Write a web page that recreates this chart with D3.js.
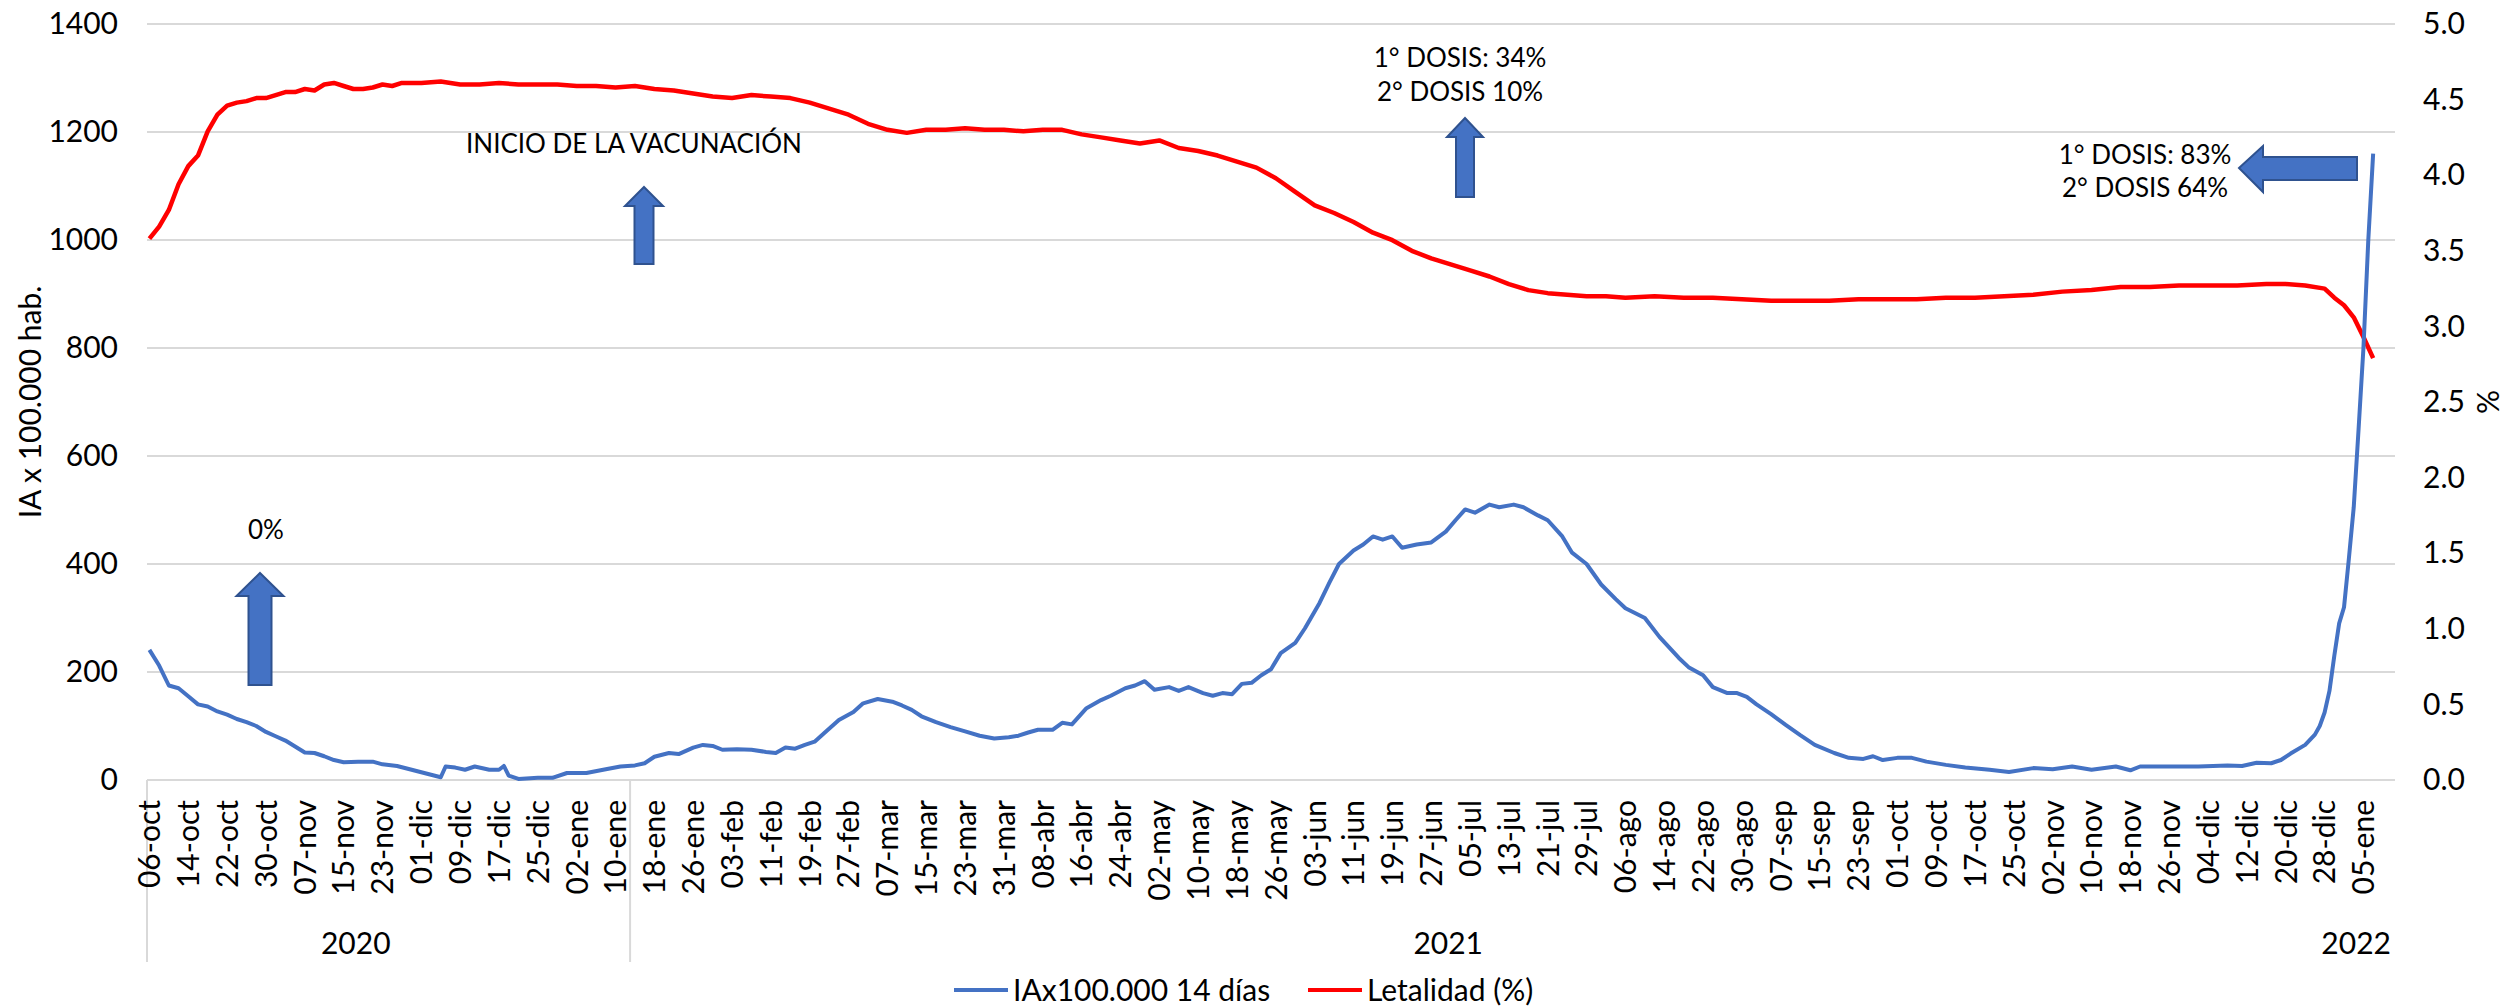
<!DOCTYPE html>
<html>
<head>
<meta charset="utf-8">
<script src="https://cdn.jsdelivr.net/npm/d3@7"></script>
<style>
  body { margin: 0; background: #fff; }
  svg text { font-family: Lato, "Open Sans", sans-serif; fill: #000; }
</style>
</head>
<body>
<div id="myChart"></div>
<script>
// categorias: un dia por categoria desde el 06-oct-2020
const nCategories = 463;

// etiquetas del eje x (cada 8 dias)
const tickLabels = ["06-oct","14-oct","22-oct","30-oct","07-nov","15-nov","23-nov","01-dic","09-dic","17-dic","25-dic","02-ene","10-ene","18-ene","26-ene","03-feb","11-feb","19-feb","27-feb","07-mar","15-mar","23-mar","31-mar","08-abr","16-abr","24-abr","02-may","10-may","18-may","26-may","03-jun","11-jun","19-jun","27-jun","05-jul","13-jul","21-jul","29-jul","06-ago","14-ago","22-ago","30-ago","07-sep","15-sep","23-sep","01-oct","09-oct","17-oct","25-oct","02-nov","10-nov","18-nov","26-nov","04-dic","12-dic","20-dic","28-dic","05-ene"];

// grupos de año (categoria donde empieza el grupo y donde va la etiqueta)
const yearLabels = ["2020", "2021", "2022"];
const yearLabelAt = [43, 268, 455];
const yearSplits = [0, 99.5];

// IA x 100.000 14 dias  [categoria, valor]
const iaPoints = [[0,241],[2,212],[4,175],[6,170],[8,155],[10,140],[12,136],[14,127],[16,121],[18,113],[20,107],[22,100],[24,89],[26,81],[28,73],[30,62],[32,51],[34,50],[36,44],[38,37],[40,33],[43,34],[46,34],[48,29],[51,26],[54,19],[57,12],[60,5],[61,25],[63,23],[65,19],[67,25],[70,19],[72,19],[73,26],[74,8],[76,2],[80,4],[83,4],[86,13],[90,13],[94,20],[97,25],[100,27],[102,31],[104,43],[107,50],[109,48],[112,60],[114,65],[116,63],[118,56],[121,57],[124,56],[127,52],[129,50],[131,60],[133,58],[135,65],[137,71],[139,87],[142,111],[145,126],[147,142],[150,150],[153,145],[155,138],[157,130],[159,118],[162,107],[165,98],[168,90],[171,82],[174,77],[177,79],[179,82],[181,88],[183,93],[186,93],[188,106],[190,103],[193,133],[196,148],[198,156],[201,170],[203,175],[205,183],[207,167],[210,172],[212,165],[214,172],[217,161],[219,156],[221,161],[223,159],[225,178],[227,180],[229,194],[231,205],[233,235],[236,254],[238,281],[241,328],[243,365],[245,400],[248,425],[250,436],[252,451],[254,445],[256,451],[258,430],[261,436],[264,440],[267,460],[269,481],[271,501],[273,495],[276,510],[278,505],[281,510],[283,505],[286,490],[288,481],[291,451],[293,421],[296,400],[299,362],[302,335],[304,318],[308,300],[311,265],[315,226],[317,209],[320,194],[322,172],[325,161],[327,161],[329,154],[331,140],[334,122],[337,102],[340,83],[343,65],[347,50],[350,41],[353,39],[355,44],[357,37],[360,41],[363,41],[366,34],[370,28],[374,23],[379,19],[383,15],[388,22],[392,20],[396,25],[400,19],[405,25],[408,18],[410,25],[415,25],[422,25],[428,27],[431,26],[434,32],[437,31],[439,37],[441,49],[444,65],[446,84],[447,100],[448,125],[449,165],[450,230],[451,290],[452,320],[453,410],[454,505],[455,650],[456,800],[457,1000],[458,1160]];

// Letalidad (%)  [categoria, valor]
const letPoints = [[0,3.58],[2,3.66],[4,3.77],[6,3.94],[8,4.06],[10,4.13],[12,4.29],[14,4.40],[16,4.46],[18,4.48],[20,4.49],[22,4.51],[24,4.51],[26,4.53],[28,4.55],[30,4.55],[32,4.57],[34,4.56],[36,4.60],[38,4.61],[40,4.59],[42,4.57],[44,4.57],[46,4.58],[48,4.60],[50,4.59],[52,4.61],[56,4.61],[60,4.62],[64,4.60],[68,4.60],[72,4.61],[76,4.60],[80,4.60],[84,4.60],[88,4.59],[92,4.59],[96,4.58],[100,4.59],[104,4.57],[108,4.56],[112,4.54],[116,4.52],[120,4.51],[124,4.53],[128,4.52],[132,4.51],[136,4.48],[140,4.44],[144,4.40],[148,4.34],[152,4.30],[156,4.28],[160,4.30],[164,4.30],[168,4.31],[172,4.30],[176,4.30],[180,4.29],[184,4.30],[188,4.30],[192,4.27],[196,4.25],[200,4.23],[204,4.21],[208,4.23],[212,4.18],[216,4.16],[220,4.13],[224,4.09],[228,4.05],[232,3.98],[236,3.89],[240,3.80],[244,3.75],[248,3.69],[252,3.62],[256,3.57],[260,3.50],[264,3.45],[268,3.41],[272,3.37],[276,3.33],[280,3.28],[284,3.24],[288,3.22],[292,3.21],[296,3.20],[300,3.20],[304,3.19],[310,3.20],[316,3.19],[322,3.19],[328,3.18],[334,3.17],[340,3.17],[346,3.17],[352,3.18],[358,3.18],[364,3.18],[370,3.19],[376,3.19],[382,3.20],[388,3.21],[394,3.23],[400,3.24],[406,3.26],[412,3.26],[418,3.27],[424,3.27],[430,3.27],[436,3.28],[440,3.28],[444,3.27],[448,3.25],[450,3.19],[452,3.14],[454,3.06],[456,2.93],[458,2.79]];

const leftTicks = [0, 200, 400, 600, 800, 1000, 1200, 1400];
const rightTicks = [0, 0.5, 1, 1.5, 2, 2.5, 3, 3.5, 4, 4.5, 5];

const W = 2509, H = 1006;
const margin = { top: 24, right: 114, bottom: 226, left: 147 };
const width = W - margin.left - margin.right,
  height = H - margin.top - margin.bottom;

const svg = d3
  .select("#myChart")
  .append("svg")
  .attr("width", W)
  .attr("height", H);

const g = svg
  .append("g")
  .attr("transform", "translate(" + margin.left + "," + margin.top + ")");

// escalas
const x = d3.scaleLinear().domain([0, nCategories]).range([0, width]);
const yLeft = d3.scaleLinear().domain([0, 1400]).range([height, 0]);
const yRight = d3.scaleLinear().domain([0, 5]).range([height, 0]);

// lineas de la grilla
g.append("g")
  .selectAll("line")
  .data(leftTicks)
  .enter()
  .append("line")
  .attr("x1", 0)
  .attr("x2", width)
  .attr("y1", (d) => yLeft(d))
  .attr("y2", (d) => yLeft(d))
  .attr("stroke", "#d9d9d9")
  .attr("stroke-width", 2);

// eje izquierdo
const axL = g.append("g").call(
  d3.axisLeft(yLeft).tickValues(leftTicks).tickSize(0).tickPadding(29).tickFormat(d3.format("d"))
);
axL.select(".domain").remove();
axL.selectAll("text").style("font-size", "30px").attr("font-family", null);

// eje derecho
const axR = g
  .append("g")
  .attr("transform", "translate(" + (width + 28) + ",0)")
  .call(d3.axisRight(yRight).tickValues(rightTicks).tickSize(0).tickPadding(0).tickFormat(d3.format(".1f")));
axR.select(".domain").remove();
axR.selectAll("text").style("font-size", "30px").attr("font-family", null);

// eje x
const xa = g.append("g").attr("transform", "translate(0," + height + ")");

// separadores de año (debajo de las etiquetas)
xa.selectAll(".sep")
  .data(yearSplits)
  .enter()
  .append("line")
  .attr("x1", (d) => x(d))
  .attr("x2", (d) => x(d))
  .attr("y1", 0)
  .attr("y2", 182)
  .attr("stroke", "#d9d9d9")
  .attr("stroke-width", 2);

// etiquetas rotadas
xa.selectAll(".xlab")
  .data(tickLabels)
  .enter()
  .append("text")
  .attr("class", "xlab")
  .attr("transform", (d, i) => "translate(" + x(i * 8 + 0.5) + ",20) rotate(-90)")
  .attr("text-anchor", "end")
  .attr("dy", "0.36em")
  .style("font-size", "30px")
  .text((d) => d);

xa.selectAll(".year")
  .data(yearLabels)
  .enter()
  .append("text")
  .attr("x", (d, i) => x(yearLabelAt[i]))
  .attr("y", 174)
  .attr("text-anchor", "middle")
  .style("font-size", "30px")
  .text((d) => d);

// titulos de ejes
svg
  .append("text")
  .attr("transform", "translate(30," + (margin.top + height / 2) + ") rotate(-90)")
  .attr("text-anchor", "middle")
  .attr("dy", "0.35em")
  .style("font-size", "30px")
  .text("IA x 100.000 hab.");

svg
  .append("text")
  .attr("transform", "translate(2488," + (margin.top + height / 2) + ") rotate(-90)")
  .attr("text-anchor", "middle")
  .attr("dy", "0.35em")
  .style("font-size", "30px")
  .text("%");

// lineas
const lineL = d3.line().x((d) => x(d[0] + 0.5)).y((d) => yLeft(d[1]));
const lineR = d3.line().x((d) => x(d[0] + 0.5)).y((d) => yRight(d[1]));

g.append("path")
  .datum(letPoints)
  .attr("fill", "none")
  .attr("stroke", "#ff0000")
  .attr("stroke-width", 4.5)
  .attr("stroke-linejoin", "round")
  .attr("d", lineR);

g.append("path")
  .datum(iaPoints)
  .attr("fill", "none")
  .attr("stroke", "#4472c4")
  .attr("stroke-width", 4)
  .attr("stroke-linejoin", "round")
  .attr("d", lineL);

// flechas y textos
const arrowFill = "#4472c4", arrowStroke = "#2f528f";
function upArrow(cx, top, bottom, headW, shaftW, headH) {
  const pts = [
    [cx, top], [cx + headW / 2, top + headH], [cx + shaftW / 2, top + headH],
    [cx + shaftW / 2, bottom], [cx - shaftW / 2, bottom], [cx - shaftW / 2, top + headH],
    [cx - headW / 2, top + headH]
  ];
  svg.append("polygon").attr("points", pts.join(" "))
    .attr("fill", arrowFill).attr("stroke", arrowStroke).attr("stroke-width", 2);
}
upArrow(260, 573, 685, 47, 23, 23);
upArrow(644, 187, 264, 38, 19, 19);
upArrow(1465, 118, 197, 36, 18, 19);

// flecha izquierda
const lp = [[2239,168],[2263,146],[2263,157],[2357,157],[2357,180],[2263,180],[2263,192]];
svg.append("polygon").attr("points", lp.join(" "))
  .attr("fill", arrowFill).attr("stroke", arrowStroke).attr("stroke-width", 2);

const notes = [
  { x: 266, y: 539, t: "0%" },
  { x: 634, y: 153, t: "INICIO DE LA VACUNACIÓN" },
  { x: 1460, y: 67, t: "1°  DOSIS: 34%" },
  { x: 1460, y: 101, t: "2°  DOSIS 10%" },
  { x: 2145, y: 164, t: "1°  DOSIS: 83%" },
  { x: 2145, y: 197, t: "2°  DOSIS 64%" }
];
svg.selectAll(".note")
  .data(notes)
  .enter()
  .append("text")
  .attr("x", (d) => d.x)
  .attr("y", (d) => d.y)
  .attr("text-anchor", "middle")
  .style("font-size", "26px")
  .text((d) => d.t);

// leyenda
const legend = [
  { name: "IAx100.000 14 días", color: "#4472c4", x: 954 },
  { name: "Letalidad (%)", color: "#ff0000", x: 1308 }
];
const lg = svg.selectAll(".leg").data(legend).enter().append("g");
lg.append("line")
  .attr("x1", (d) => d.x).attr("x2", (d) => d.x + 54)
  .attr("y1", 990).attr("y2", 990)
  .attr("stroke", (d) => d.color).attr("stroke-width", 4);
lg.append("text")
  .attr("x", (d) => d.x + 59).attr("y", 990)
  .attr("dy", "0.36em")
  .style("font-size", "30px")
  .text((d) => d.name);
</script>
</body>
</html>
